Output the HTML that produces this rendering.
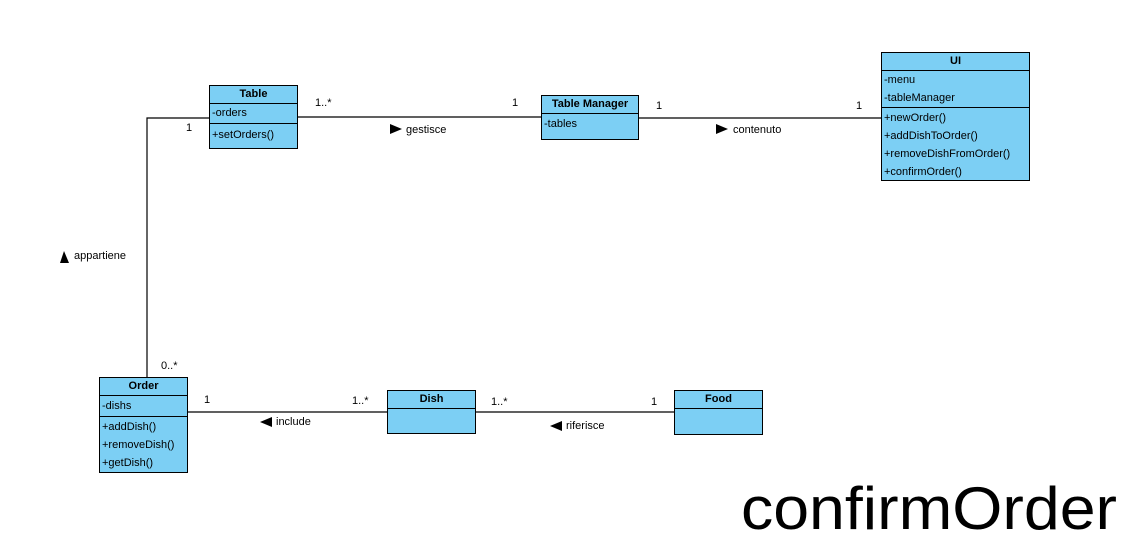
<!DOCTYPE html>
<html><head><meta charset="utf-8"><style>
body{margin:0;background:#fff;width:1125px;height:544px;overflow:hidden;position:relative;font-family:"Liberation Sans",Arial,sans-serif;font-size:11px;color:#000}
.b{position:absolute;background:#7ccff4;border:1px solid #000;box-sizing:border-box}
.h{font-weight:bold;text-align:center;border-bottom:1px solid #000;height:17px;line-height:16px}
.s{border-bottom:1px solid #000;padding:2px 2px}
.s div,.o div{line-height:18px}
.o{padding:2px 2px}
.t{position:absolute;white-space:nowrap}
</style></head><body>
<svg width="1125" height="544" style="position:absolute;left:0;top:0">
<g stroke="#000" stroke-width="1.2" fill="none">
<polyline points="209,118 147,118 147,377"/>
<line x1="297" y1="117" x2="541" y2="117"/>
<line x1="638" y1="118" x2="881" y2="118"/>
<line x1="187" y1="412" x2="387" y2="412"/>
<line x1="475" y1="412" x2="674" y2="412"/>
</g>
<g fill="#000">
<polygon points="390,124 402,129 390,134"/>
<polygon points="716,124 728,129 716,134"/>
<polygon points="60,263 64,251 69,263"/>
<polygon points="272,417 260,422 272,427"/>
<polygon points="562,421 550,426 562,431"/>
</g>
<text x="741" y="529" font-family="Liberation Sans, sans-serif" font-size="60" textLength="376" lengthAdjust="spacingAndGlyphs">confirmOrder</text>
</svg>

<div class="b" style="left:209px;top:85px;width:89px;height:64px"><div class="h">Table</div><div class="s"><div style="line-height:15px">-orders</div></div><div class="o"><div>+setOrders()</div></div></div>
<div class="b" style="left:541px;top:95px;width:98px;height:45px"><div class="h">Table Manager</div><div class="o"><div style="line-height:17px">-tables</div></div></div>
<div class="b" style="left:881px;top:52px;width:149px;height:129px"><div class="h">UI</div><div class="s" style="padding:0 2px"><div>-menu</div><div>-tableManager</div></div><div class="o" style="padding:1px 2px"><div>+newOrder()</div><div>+addDishToOrder()</div><div>+removeDishFromOrder()</div><div>+confirmOrder()</div></div></div>
<div class="b" style="left:99px;top:377px;width:89px;height:96px"><div class="h">Order</div><div class="s" style="padding:1px 2px"><div>-dishs</div></div><div class="o" style="padding:1px 2px"><div>+addDish()</div><div>+removeDish()</div><div>+getDish()</div></div></div>
<div class="b" style="left:387px;top:390px;width:89px;height:44px"><div class="h">Dish</div></div>
<div class="b" style="left:674px;top:390px;width:89px;height:45px"><div class="h">Food</div></div>

<div class="t" style="left:315px;top:97px">1..*</div>
<div class="t" style="left:512px;top:97px">1</div>
<div class="t" style="left:406px;top:124px">gestisce</div>
<div class="t" style="left:656px;top:100px">1</div>
<div class="t" style="left:856px;top:100px">1</div>
<div class="t" style="left:733px;top:124px">contenuto</div>
<div class="t" style="left:186px;top:122px">1</div>
<div class="t" style="left:74px;top:250px">appartiene</div>
<div class="t" style="left:161px;top:360px">0..*</div>
<div class="t" style="left:204px;top:394px">1</div>
<div class="t" style="left:352px;top:395px">1..*</div>
<div class="t" style="left:276px;top:416px">include</div>
<div class="t" style="left:491px;top:396px">1..*</div>
<div class="t" style="left:651px;top:396px">1</div>
<div class="t" style="left:566px;top:420px">riferisce</div>
</body></html>
